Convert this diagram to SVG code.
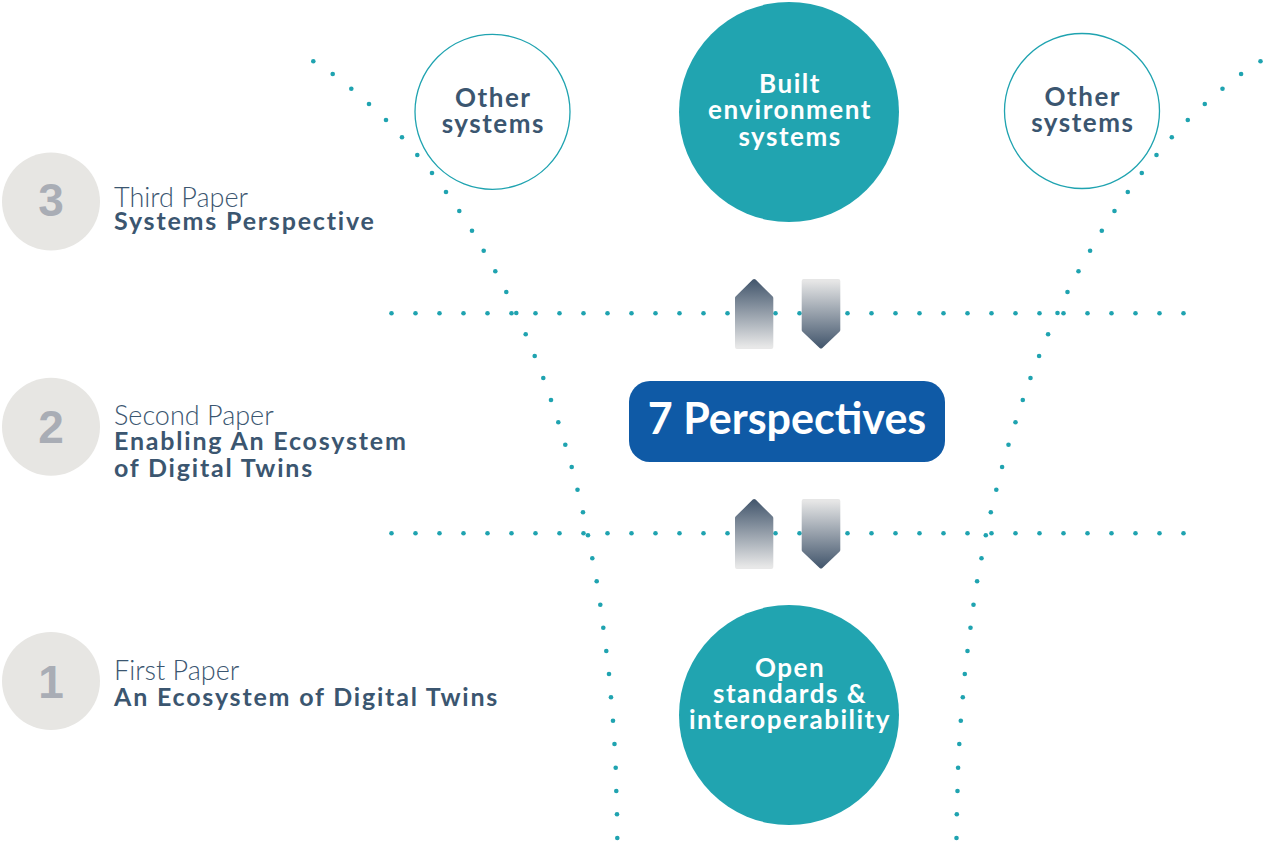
<svg xmlns="http://www.w3.org/2000/svg" xmlns:xlink="http://www.w3.org/1999/xlink" width="1265" height="843" viewBox="0 0 1265 843">
  <style>
    .dot { fill: #1fa3b0; }
    .step-disc { fill: #e7e6e3; }
    .step-num { fill: #a9adb5; font-family: "Liberation Sans", Arial, sans-serif; font-weight: 700; font-size: 46px; text-anchor: middle; }
    .paper { fill: #3b5670; font-family: Lato, "Open Sans", sans-serif; font-weight: 300; font-size: 27px; }
    .title { fill: #3b5670; font-family: Lato, "Open Sans", sans-serif; font-weight: 700; font-size: 25px; letter-spacing: 1.8px; }
    .ring { fill: #ffffff; stroke: #1fa3b0; stroke-width: 1.3; }
    .ring-text { fill: #3b5670; font-family: Lato, "Open Sans", sans-serif; font-weight: 700; font-size: 26px; letter-spacing: 1.5px; text-anchor: middle; }
    .solid { fill: #21a4b0; }
    .solid-text { fill: #ffffff; font-family: Lato, "Open Sans", sans-serif; font-weight: 700; font-size: 26px; letter-spacing: 1.5px; text-anchor: middle; }
    .hub { fill: #0f5aa6; }
    .hub-text { fill: #ffffff; font-family: Lato, "Open Sans", sans-serif; font-weight: 700; font-size: 43px; text-anchor: middle; }
    .up { fill: url(#gUp); stroke: url(#gUp); stroke-width: 4; stroke-linejoin: round; }
    .down { fill: url(#gDown); stroke: url(#gDown); stroke-width: 4; stroke-linejoin: round; }
  </style>
  <defs>
    <linearGradient id="gUp" x1="0" y1="0" x2="0" y2="1">
      <stop offset="0" stop-color="#46596f"/>
      <stop offset="1" stop-color="#e8e8e8"/>
    </linearGradient>
    <linearGradient id="gDown" x1="0" y1="0" x2="0" y2="1">
      <stop offset="0" stop-color="#e6e6e6"/>
      <stop offset="1" stop-color="#46596f"/>
    </linearGradient>
    <!-- one side of the dotted funnel; the other side is its mirror image -->
    <g id="funnelSide">
      <circle class="dot" cx="313.3" cy="61.3" r="2.3"/>
      <circle class="dot" cx="332.7" cy="74" r="2.3"/>
      <circle class="dot" cx="351.3" cy="88.7" r="2.3"/>
      <circle class="dot" cx="369" cy="104" r="2.3"/>
      <circle class="dot" cx="386" cy="120" r="2.3"/>
      <circle class="dot" cx="402" cy="137.3" r="2.3"/>
      <circle class="dot" cx="417.3" cy="155" r="2.3"/>
      <circle class="dot" cx="432" cy="173" r="2.3"/>
      <circle class="dot" cx="446" cy="192" r="2.3"/>
      <circle class="dot" cx="459.3" cy="211" r="2.3"/>
      <circle class="dot" cx="472" cy="230.7" r="2.3"/>
      <circle class="dot" cx="483.7" cy="250.7" r="2.3"/>
      <circle class="dot" cx="495.3" cy="271.3" r="2.3"/>
      <circle class="dot" cx="506.3" cy="292" r="2.3"/>
      <circle class="dot" cx="516.3" cy="313" r="2.3"/>
      <circle class="dot" cx="525.7" cy="334.3" r="2.3"/>
      <circle class="dot" cx="534.7" cy="356" r="2.3"/>
      <circle class="dot" cx="543.3" cy="378" r="2.3"/>
      <circle class="dot" cx="551" cy="400" r="2.3"/>
      <circle class="dot" cx="558.3" cy="422.3" r="2.3"/>
      <circle class="dot" cx="565.3" cy="444.7" r="2.3"/>
      <circle class="dot" cx="571.7" cy="467" r="2.3"/>
      <circle class="dot" cx="577.5" cy="489.7" r="2.3"/>
      <circle class="dot" cx="583" cy="512.3" r="2.3"/>
      <circle class="dot" cx="588" cy="535.3" r="2.3"/>
      <circle class="dot" cx="592.3" cy="558.3" r="2.3"/>
      <circle class="dot" cx="596.7" cy="581.3" r="2.3"/>
      <circle class="dot" cx="600.3" cy="604.7" r="2.3"/>
      <circle class="dot" cx="603.3" cy="627.7" r="2.3"/>
      <circle class="dot" cx="606.3" cy="651" r="2.3"/>
      <circle class="dot" cx="609" cy="674" r="2.3"/>
      <circle class="dot" cx="611" cy="697.3" r="2.3"/>
      <circle class="dot" cx="613" cy="720.7" r="2.3"/>
      <circle class="dot" cx="614.5" cy="744" r="2.3"/>
      <circle class="dot" cx="615.7" cy="767.7" r="2.3"/>
      <circle class="dot" cx="616.3" cy="791" r="2.3"/>
      <circle class="dot" cx="617" cy="814.3" r="2.3"/>
      <circle class="dot" cx="617.3" cy="838" r="2.3"/>
    </g>
    <!-- dotted horizontal divider -->
    <g id="divider">
      <circle class="dot" cx="391.5" cy="0" r="2.3"/>
      <circle class="dot" cx="415.5" cy="0" r="2.3"/>
      <circle class="dot" cx="439.5" cy="0" r="2.3"/>
      <circle class="dot" cx="463.5" cy="0" r="2.3"/>
      <circle class="dot" cx="487.5" cy="0" r="2.3"/>
      <circle class="dot" cx="511.5" cy="0" r="2.3"/>
      <circle class="dot" cx="535.5" cy="0" r="2.3"/>
      <circle class="dot" cx="559.5" cy="0" r="2.3"/>
      <circle class="dot" cx="583.5" cy="0" r="2.3"/>
      <circle class="dot" cx="607.5" cy="0" r="2.3"/>
      <circle class="dot" cx="631.5" cy="0" r="2.3"/>
      <circle class="dot" cx="655.5" cy="0" r="2.3"/>
      <circle class="dot" cx="679.5" cy="0" r="2.3"/>
      <circle class="dot" cx="703.5" cy="0" r="2.3"/>
      <circle class="dot" cx="727.5" cy="0" r="2.3"/>
      <circle class="dot" cx="751.5" cy="0" r="2.3"/>
      <circle class="dot" cx="775.5" cy="0" r="2.3"/>
      <circle class="dot" cx="799.5" cy="0" r="2.3"/>
      <circle class="dot" cx="823.5" cy="0" r="2.3"/>
      <circle class="dot" cx="847.5" cy="0" r="2.3"/>
      <circle class="dot" cx="871.5" cy="0" r="2.3"/>
      <circle class="dot" cx="895.5" cy="0" r="2.3"/>
      <circle class="dot" cx="919.5" cy="0" r="2.3"/>
      <circle class="dot" cx="943.5" cy="0" r="2.3"/>
      <circle class="dot" cx="967.5" cy="0" r="2.3"/>
      <circle class="dot" cx="991.5" cy="0" r="2.3"/>
      <circle class="dot" cx="1015.5" cy="0" r="2.3"/>
      <circle class="dot" cx="1039.5" cy="0" r="2.3"/>
      <circle class="dot" cx="1063.5" cy="0" r="2.3"/>
      <circle class="dot" cx="1087.5" cy="0" r="2.3"/>
      <circle class="dot" cx="1111.5" cy="0" r="2.3"/>
      <circle class="dot" cx="1135.5" cy="0" r="2.3"/>
      <circle class="dot" cx="1159.5" cy="0" r="2.3"/>
      <circle class="dot" cx="1183.5" cy="0" r="2.3"/>
    </g>
  </defs>

  <rect width="1265" height="843" fill="#ffffff"/>

  <!-- dotted guides: funnel and two level dividers -->
  <g id="connectors">
    <use xlink:href="#funnelSide"/>
    <use xlink:href="#funnelSide" transform="matrix(-1 0 0 1 1573.8 0)"/>
    <use xlink:href="#divider" transform="translate(0 313.3)"/>
    <use xlink:href="#divider" transform="translate(0 533.3)"/>
    <!-- up / down exchange arrows -->
    <path class="up" d="M754.2 281 L771.3 298 L771.3 347 L737 347 L737 298 Z"/>
    <path class="down" d="M803.7 281 L838.3 281 L838.3 330 L821 346.5 L803.7 330 Z"/>
    <path class="up" d="M754.2 501 L771.3 518 L771.3 567 L737 567 L737 518 Z"/>
    <path class="down" d="M803.7 501 L838.3 501 L838.3 550 L821 566.5 L803.7 550 Z"/>
  </g>

  <!-- paper levels -->
  <g id="paper-3">
    <circle class="step-disc" cx="51" cy="201.5" r="49"/>
    <text class="step-num" x="51" y="216">3</text>
    <text class="paper" x="114" y="207">Third Paper</text>
    <text class="title" x="114" y="230">Systems Perspective</text>
  </g>
  <g id="paper-2">
    <circle class="step-disc" cx="51" cy="426.7" r="49"/>
    <text class="step-num" x="51" y="442.5">2</text>
    <text class="paper" x="114" y="425">Second Paper</text>
    <text class="title" x="114" y="450"><tspan x="114">Enabling An Ecosystem</tspan><tspan x="114" dy="26.5">of Digital Twins</tspan></text>
  </g>
  <g id="paper-1">
    <circle class="step-disc" cx="51" cy="681" r="49"/>
    <text class="step-num" x="51" y="697.5">1</text>
    <text class="paper" x="114" y="680">First Paper</text>
    <text class="title" x="114" y="706">An Ecosystem of Digital Twins</text>
  </g>

  <!-- system circles -->
  <g id="other-systems-left">
    <circle class="ring" cx="492.5" cy="111.8" r="77.5"/>
    <text class="ring-text" y="107"><tspan x="493.3">Other</tspan><tspan x="493.3" dy="26">systems</tspan></text>
  </g>
  <g id="built-environment">
    <circle class="solid" cx="789" cy="112" r="110"/>
    <text class="solid-text" y="93"><tspan x="790">Built</tspan><tspan x="790" dy="26">environment</tspan><tspan x="790" dy="26.5">systems</tspan></text>
  </g>
  <g id="other-systems-right">
    <circle class="ring" cx="1082" cy="111" r="77.5"/>
    <text class="ring-text" y="106"><tspan x="1082.8">Other</tspan><tspan x="1082.8" dy="26">systems</tspan></text>
  </g>

  <g id="seven-perspectives">
    <rect class="hub" x="629" y="381" width="316" height="81" rx="21"/>
    <text class="hub-text" x="787" y="433.5">7 Perspectives</text>
  </g>

  <g id="open-standards">
    <circle class="solid" cx="789" cy="715" r="110"/>
    <text class="solid-text" y="677"><tspan x="790">Open</tspan><tspan x="790" dy="26">standards &amp;</tspan><tspan x="790" dy="26">interoperability</tspan></text>
  </g>
</svg>
